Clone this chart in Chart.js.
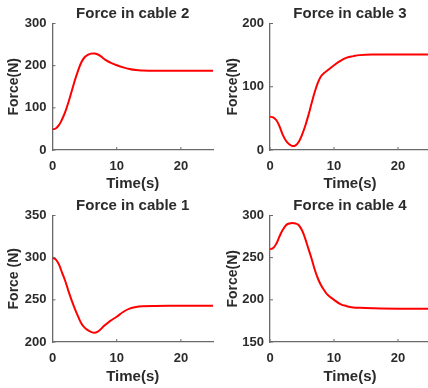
<!DOCTYPE html>
<html>
<head>
<meta charset="utf-8">
<script src="https://cdn.jsdelivr.net/npm/chart.js@4"></script>
<style>
  html, body { margin: 0; padding: 0; background: #fff; overflow: hidden; width: 428px; height: 388px; }
  canvas { position: absolute; }
</style>
</head>
<body>
<canvas id="c2" width="214" height="194" style="left:0;top:0"></canvas>
<canvas id="c3" width="218" height="194" style="left:214px;top:0"></canvas>
<canvas id="c1" width="214" height="196" style="left:0;top:192px"></canvas>
<canvas id="c4" width="218" height="196" style="left:214px;top:192px"></canvas>
<script>
// time samples (s)
var time = [0, 0.5, 1, 1.5, 2, 2.5, 3, 3.5, 4, 4.5, 5, 5.5, 6, 6.5, 7, 7.5, 8, 8.5, 9, 10, 11, 12, 13, 14, 16, 20, 25];

// forces in each cable (N)
var cable2 = [49, 51, 59, 73, 91, 114, 140, 166, 189, 208, 220, 225.5, 228.5, 229, 227, 222.5, 216.5, 211.5, 207.5, 201, 196, 192, 189.5, 188.6, 188, 188, 188];
var cable3 = [52.6, 51.6, 47, 37, 24, 14.7, 9, 6.3, 7.4, 13, 24, 38, 55, 74, 92, 107, 117, 122, 126, 134, 141, 146, 148.4, 150, 151, 151, 151];
var cable1 = [300, 298, 292, 282, 272, 260, 249, 239, 230, 222, 217, 214, 212, 211, 212, 215, 219, 222, 225, 230, 235.6, 239.5, 241.5, 242.3, 242.7, 243, 243];
var cable4 = [260, 261.5, 266.7, 275.4, 283, 288.5, 290.5, 291, 290.5, 288.5, 282.5, 272.6, 260.7, 248.8, 235.7, 225, 217, 211, 206, 200, 195, 192.5, 191, 190.5, 190, 189.5, 189.5];

var xTicks = [0, 10, 20];
var textColor = '#2b2b2b';
var axisColor = '#6a6a6a';
var fontFamily = 'Liberation Sans, Arial, sans-serif';

// matlab style inward tick marks
var inwardTicks = {
  id: 'inwardTicks',
  afterDatasetsDraw: function(chart) {
    var ctx = chart.ctx;
    var area = chart.chartArea;
    ctx.save();
    ctx.strokeStyle = axisColor;
    ctx.lineWidth = 1;
    chart.scales.x.ticks.forEach(function(t) {
      var px = chart.scales.x.getPixelForValue(t.value);
      ctx.beginPath();
      ctx.moveTo(px, area.bottom);
      ctx.lineTo(px, area.bottom - 3);
      ctx.stroke();
    });
    chart.scales.y.ticks.forEach(function(t) {
      var py = chart.scales.y.getPixelForValue(t.value);
      ctx.beginPath();
      ctx.moveTo(area.left, py);
      ctx.lineTo(area.left + 3, py);
      ctx.stroke();
    });
    ctx.restore();
  }
};

function makeChart(id, title, values, yMin, yMax, yStep, box) {
  var pts = time.map(function(t, i) { return { x: t, y: values[i] }; });
  return new Chart(document.getElementById(id), {
    type: 'line',
    data: {
      datasets: [{
        data: pts,
        borderColor: '#ff0000',
        borderWidth: 2,
        pointRadius: 0,
        tension: 0.4,
        fill: false
      }]
    },
    options: {
      responsive: false,
      animation: false,
      layout: { padding: { left: 0, right: box.right, top: 0, bottom: 0 } },
      plugins: {
        legend: { display: false },
        tooltip: { enabled: false },
        title: {
          display: true,
          text: title,
          fullSize: false,
          color: textColor,
          font: { family: fontFamily, size: 15, weight: 'bold' },
          padding: { top: 4.5, bottom: 1 }
        }
      },
      scales: {
        x: {
          type: 'linear',
          min: 0,
          max: 25,
          afterBuildTicks: function(s) { s.ticks = xTicks.map(function(v) { return { value: v }; }); },
          afterFit: function(s) { s.height = box.xh; },
          grid: { display: true, drawOnChartArea: false, drawTicks: false },
          border: { display: true, color: axisColor, width: 1.3 },
          ticks: {
            color: textColor,
            padding: 9,
            maxRotation: 0,
            font: { family: fontFamily, size: 13, weight: 'bold' }
          },
          title: {
            display: true,
            text: 'Time(s)',
            color: textColor,
            font: { family: fontFamily, size: 15, weight: 'bold' },
            padding: { top: 0, bottom: box.xtp }
          }
        },
        y: {
          min: yMin,
          max: yMax,
          afterFit: function(s) { s.width = box.yw; },
          grid: { display: true, drawOnChartArea: false, drawTicks: false },
          border: { display: true, color: axisColor, width: 1.3 },
          ticks: {
            stepSize: yStep,
            color: textColor,
            padding: 6,
            font: { family: fontFamily, size: 13, weight: 'bold' }
          },
          title: {
            display: true,
            text: box.ytext,
            color: textColor,
            font: { family: fontFamily, size: 14, weight: 'bold' },
            padding: { top: box.ytp, bottom: 0 }
          }
        }
      }
    },
    plugins: [inwardTicks]
  });
}

makeChart('c2', 'Force in cable 2', cable2, 0, 300, 100, { yw: 52.5, xh: 44, right: 1, xtp: 1.5, ytp: 5.5, ytext: 'Force(N)' });
makeChart('c3', 'Force in cable 3', cable3, 0, 200, 100, { yw: 56, xh: 44, right: 2, xtp: 1.5, ytp: 10.5, ytext: 'Force(N)' });
makeChart('c1', 'Force in cable 1', cable1, 200, 350, 50, { yw: 52.5, xh: 46, right: 1, xtp: 2, ytp: 5.5, ytext: 'Force (N)' });
makeChart('c4', 'Force in cable 4', cable4, 150, 300, 50, { yw: 56, xh: 46, right: 2, xtp: 2, ytp: 10.5, ytext: 'Force(N)' });
</script>
</body>
</html>
